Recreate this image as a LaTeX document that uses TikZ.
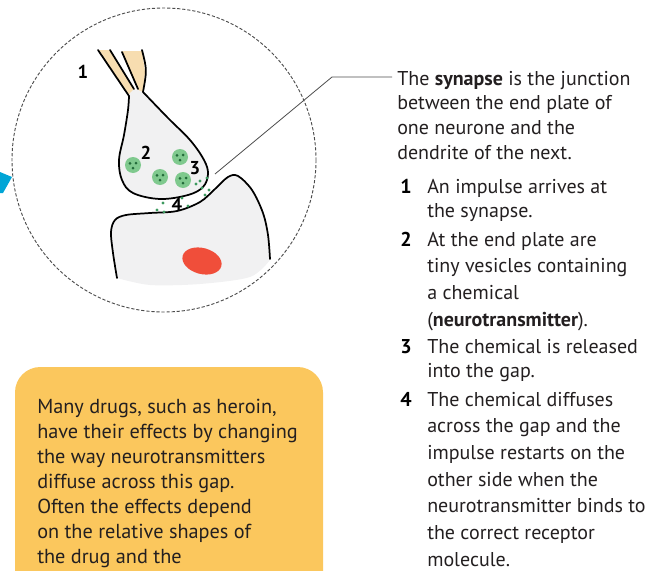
\documentclass[tikz,border=0pt]{standalone}
\usepackage{fontspec}
\setmainfont{PT Sans}
\usetikzlibrary{calc}
\newcommand{\textlines}[1]{\begin{tabular}[t]{@{}l@{}}#1\end{tabular}}
\begin{document}
\begin{tikzpicture}[x=0.75pt,y=-0.75pt,
  outline/.style={draw=black,line width=1.3pt,line join=round,line cap=round},
  vesicle/.style={circle,fill=vesgreen,inner sep=0pt,minimum size=12pt},
  vdot/.style={fill=dotgreen},
  tdot/.style={fill=nsgreen},
  numlabel/.style={font=\bfseries\fontsize{14}{16}\selectfont,inner sep=0pt,text=black},
  bodytext/.style={font=\fontsize{15}{20}\selectfont,text=bodyink,inner sep=0pt,anchor=base west},
  itemnum/.style={font=\bfseries\fontsize{15}{20}\selectfont,text=black,inner sep=0pt,anchor=base west},
]
\definecolor{cellgrey}{HTML}{F1F1F2}
\definecolor{tan}{HTML}{F7DDB0}
\definecolor{vesgreen}{HTML}{7FC98E}
\definecolor{dotgreen}{HTML}{226B3A}
\definecolor{nsgreen}{HTML}{3E9A60}
\definecolor{nucleus}{HTML}{F04E3A}
\definecolor{bodyink}{HTML}{231F20}
\definecolor{boxfill}{HTML}{FBC75D}
\definecolor{pointer}{HTML}{00A5D6}

\useasboundingbox (0,0) rectangle (664,571);

% dashed magnifier circle
\draw[line width=0.7pt,dash pattern=on 2.4pt off 1.4pt,draw=black!70] (164,160) circle [radius=152];

% pointer arrowhead touching the circle
\fill[pointer] (0,172) -- (12,177) -- (3,193) -- (0,193) -- cycle;

% receiving dendrite (lower cell)
\fill[cellgrey] plot[smooth,tension=0.55] coordinates {(117,278) (113,253) (111,232) (115,220) (126,215) (150,213) (177,211) (200,202) (215,189) (228,177) (238,176) (252,190) (263,213) (268,235) (270,260)}
  -- plot[smooth] coordinates {(270,260) (250,277) (200,284) (150,285) (117,278)} -- cycle;
\draw[outline] plot[smooth,tension=0.55] coordinates {(117,278) (113,253) (111,232) (115,220) (126,215) (150,213) (177,211) (200,202) (215,189) (228,177) (238,176) (252,190) (263,213) (268,235) (270,259)};

% nucleus
\fill[nucleus,rotate around={-15:(202,261)}] (202,261) ellipse [x radius=20,y radius=13];

% axon strips
\fill[tan] (99,50) -- (110,50) -- (134,90) -- (128,95) -- cycle;
\fill[tan] (122,51) -- (142,51) -- (145,72) -- (143,92) -- (138,90) -- cycle;

% end plate (bulb)
\fill[cellgrey] plot[smooth,tension=0.6] coordinates {(130,93) (129,110) (124,135) (119,160) (122,180) (133,193) (160,199) (188,195) (203,187) (208,174) (204,160) (190,140) (168,118) (144,93)} -- (138,90) -- (133,90) -- cycle;
\draw[outline] (98,50) -- (129,96);
\draw[outline] (110,50) -- (134,89);
\draw[outline] (122,52) -- (138,89);
\draw[outline] (142,50) .. controls (147,70) .. (143,92);
\draw[outline] plot[smooth,tension=0.6] coordinates {(129,96) (128,110) (124,135) (119,160) (122,180) (133,193) (160,199) (188,195) (203,187) (208,174) (204,160) (190,140) (168,118) (143,92)};

% vesicles with their contents
\foreach \n/\p in {va/{(133,165)},vb/{(180,157)},vc/{(160,177)},vd/{(183,180)}}{
  \node[vesicle] (\n) at \p {};
  \fill[vdot] ($(\n)+(-3,-1.6)$) circle [radius=1.5];
  \fill[vdot] ($(\n)+(3,-2)$) circle [radius=1.5];
  \fill[vdot] ($(\n)+(0,3.2)$) circle [radius=1.5];
}

% released transmitter in the gap
\foreach \p in {(200,181),(207,178),(202,188),(209,190),(205,195),(163,203),(157,210),(164,212),(182,198),(188,206),(196,184)}{
  \fill[tdot] \p circle [radius=1.7];
}

% numbered labels
\node[numlabel] (l1) at (83,72) {1};
\node[numlabel] (l2) at (146,153) {2};
\node[numlabel] (l3) at (195,168) {3};
\node[numlabel] (l4) at (177,205) {4};

% leader from the gap to the text
\coordinate (gap) at (215,174);
\coordinate (bend) at (332,77);
\coordinate (tip) at (392,77);
\draw[draw=black!70,line width=0.6pt] (gap) -- (bend) -- (tip);

% explanation text
\node[bodytext,font=\fontsize{15}{18.5}\selectfont] (intro) at (397,85)
  {\textlines{The \textbf{synapse} is the junction\\between the end plate of\\one neurone and the\\dendrite of the next.}};
\node[itemnum] (n1) at (400,193) {1};
\node[bodytext,font=\fontsize{15}{18.5}\selectfont] (t1) at (427,193) {\textlines{An impulse arrives at\\the synapse.}};
\node[itemnum] (n2) at (400,246) {2};
\node[bodytext] (t2) at (427,246) {\textlines{At the end plate are\\tiny vesicles containing\\a chemical\\(\textbf{neurotransmitter}).}};
\node[itemnum] (n3) at (400,353) {3};
\node[bodytext,font=\fontsize{15}{18.5}\selectfont] (t3) at (427,353) {\textlines{The chemical is released\\into the gap.}};
\node[itemnum] (n4) at (400,406) {4};
\node[bodytext] (t4) at (427,406) {\textlines{The chemical diffuses\\across the gap and the\\impulse restarts on the\\other side when the\\neurotransmitter binds to\\the correct receptor\\molecule.}};

% drug note box
\fill[boxfill,rounded corners=19pt] (15,367) rectangle (323,600);
\node[bodytext,font=\fontsize{15.2}{18.8}\selectfont] (note) at (37,413)
  {\textlines{Many drugs, such as heroin,\\have their effects by changing\\the way neurotransmitters\\diffuse across this gap.\\Often the effects depend\\on the relative shapes of\\the drug and the}};
\end{tikzpicture}
\end{document}
